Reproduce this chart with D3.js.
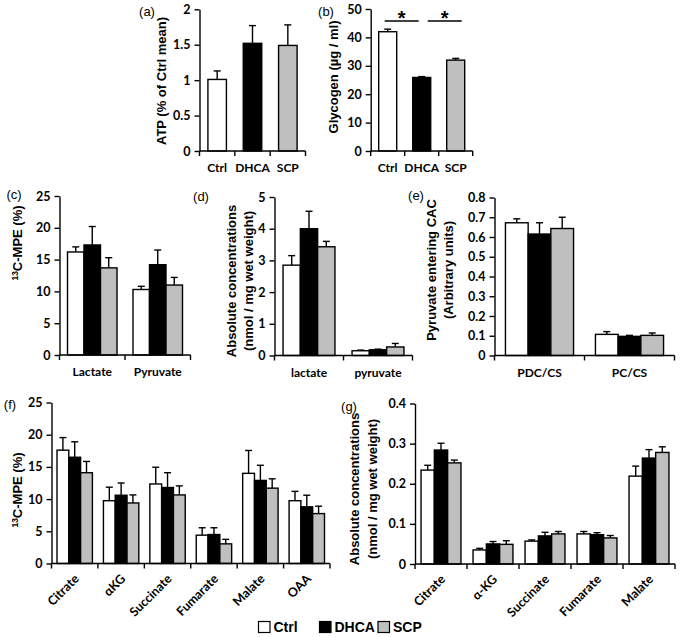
<!DOCTYPE html>
<html><head><meta charset="utf-8">
<script src="https://cdn.jsdelivr.net/npm/d3@7"></script>
<style>
body{margin:0;background:#fff;}
svg{display:block;}
</style></head>
<body>
<svg id="chart" width="680" height="637"></svg>
<script>
// ---------- DATA ----------
const groups = ["Ctrl", "DHCA", "SCP"];
const groupColors = ["#ffffff", "#000000", "#bfbfbf"];

// (a) ATP
const atpCats = ["Ctrl", "DHCA", "SCP"];
const atpMean = [1.01, 1.52, 1.49];
const atpErr = [0.12, 0.25, 0.29];
const atpTicks = [0, 0.5, 1, 1.5, 2];

// (b) Glycogen
const glyCats = ["Ctrl", "DHCA", "SCP"];
const glyMean = [42.0, 25.9, 32.0];
const glyErr = [0.9, 0.3, 0.6];
const glyTicks = [0, 10, 20, 30, 40, 50];
const glySig = [["Ctrl", "DHCA"], ["DHCA", "SCP"]];

// (c) 13C-MPE lactate / pyruvate
const mpeCats = ["Lactate", "Pyruvate"];
const mpeCtrl = [16.2, 10.3], mpeCtrlErr = [0.8, 0.5];
const mpeDhca = [17.3, 14.2], mpeDhcaErr = [2.9, 2.3];
const mpeScp = [13.7, 11.0], mpeScpErr = [1.6, 1.2];
const mpeTicks = [0, 5, 10, 15, 20, 25];

// (d) Absolute concentrations lactate / pyruvate
const absCats = ["lactate", "pyruvate"];
const absCtrl = [2.85, 0.15], absCtrlErr = [0.30, 0.02];
const absDhca = [4.0, 0.18], absDhcaErr = [0.55, 0.02];
const absScp = [3.43, 0.27], absScpErr = [0.17, 0.11];
const absTicks = [0, 1, 2, 3, 4, 5];

// (e) Pyruvate entering CAC
const pyrCats = ["PDC/CS", "PC/CS"];
const pyrCtrl = [0.672, 0.107], pyrCtrlErr = [0.020, 0.014];
const pyrDhca = [0.615, 0.097], pyrDhcaErr = [0.057, 0.005];
const pyrScp = [0.643, 0.102], pyrScpErr = [0.057, 0.012];
const pyrTicks = [0, 0.1, 0.2, 0.3, 0.4, 0.5, 0.6, 0.7, 0.8];

// (f) 13C-MPE CAC intermediates
const cacMpeCats = ["Citrate", "αKG", "Succinate", "Fumarate", "Malate", "OAA"];
const cacMpeCtrl = [17.6, 9.75, 12.35, 4.4, 14.0, 9.75];
const cacMpeCtrlErr = [1.95, 2.1, 2.6, 1.15, 3.55, 1.45];
const cacMpeDhca = [16.5, 10.6, 11.8, 4.5, 12.9, 8.8];
const cacMpeDhcaErr = [2.4, 1.9, 2.3, 1.05, 2.35, 1.8];
const cacMpeScp = [14.1, 9.4, 10.65, 3.05, 11.7, 7.75];
const cacMpeScpErr = [1.75, 1.25, 1.4, 0.7, 1.45, 1.15];
const cacMpeTicks = [0, 5, 10, 15, 20, 25];

// (g) Absolute concentrations CAC intermediates
const cacAbsCats = ["Citrate", "α-KG", "Succinate", "Fumarate", "Malate"];
const cacAbsCtrl = [0.234, 0.035, 0.057, 0.075, 0.219];
const cacAbsCtrlErr = [0.012, 0.004, 0.003, 0.006, 0.025];
const cacAbsDhca = [0.284, 0.050, 0.070, 0.073, 0.264];
const cacAbsDhcaErr = [0.017, 0.006, 0.009, 0.005, 0.021];
const cacAbsScp = [0.252, 0.049, 0.075, 0.065, 0.278];
const cacAbsScpErr = [0.007, 0.009, 0.006, 0.006, 0.014];
const cacAbsTicks = [0, 0.1, 0.2, 0.3, 0.4];

// ---------- DRAWING ----------
const svg = d3.select("#chart");
svg.append("rect").attr("width", 680).attr("height", 637).attr("fill", "#fff");

const tickFont = "Lato, 'Open Sans', sans-serif";
const titleFont = "'Liberation Sans', Arial, sans-serif";

function panel(cfg) {
  const g = svg.append("g");
  const x = d3.scaleBand().domain(cfg.cats).range([cfg.left, cfg.right]).padding(0);
  const y = d3.scaleLinear().domain([0, cfg.max]).range([cfg.bottom, cfg.top]);
  const bw = cfg.bw;
  const nS = cfg.series.length;

  cfg.series.forEach((s, si) => {
    const offs = nS === 1 ? 0 : (si - (nS - 1) / 2) * bw;
    const data = cfg.cats.map((c, i) => ({c, v: s.values[i], e: s.err[i], i}));
    const cx = d => x(d.c) + x.bandwidth() / 2 + offs;
    g.selectAll(null).data(data).enter().append("line")
      .attr("x1", cx).attr("x2", cx)
      .attr("y1", d => y(d.v)).attr("y2", d => y(d.v + d.e))
      .attr("stroke", "#000").attr("stroke-width", 1.4);
    g.selectAll(null).data(data).enter().append("line")
      .attr("x1", d => cx(d) - cfg.cap).attr("x2", d => cx(d) + cfg.cap)
      .attr("y1", d => y(d.v + d.e)).attr("y2", d => y(d.v + d.e))
      .attr("stroke", "#000").attr("stroke-width", 1.4);
    g.selectAll(null).data(data).enter().append("rect")
      .attr("x", d => cx(d) - bw / 2)
      .attr("width", bw)
      .attr("y", d => y(d.v))
      .attr("height", d => y(0) - y(d.v))
      .attr("fill", d => s.colorByCat ? groupColors[d.i] : s.color)
      .attr("stroke", "#000").attr("stroke-width", 1.4);
  });

  const ya = g.append("g").attr("transform", `translate(${cfg.left},0)`)
    .call(d3.axisLeft(y).tickValues(cfg.ticks).tickSize(5).tickSizeOuter(0).tickPadding(4)
      .tickFormat(d3.format("")));
  ya.select(".domain").attr("stroke-width", 1.4);
  ya.selectAll(".tick line").attr("stroke-width", 1.4);
  ya.selectAll("text").attr("font-family", tickFont).attr("font-weight", "bold")
    .attr("font-size", "12.5px").attr("fill", "#000");

  g.append("line").attr("x1", cfg.left).attr("x2", cfg.right)
    .attr("y1", y(0)).attr("y2", y(0)).attr("stroke", "#000").attr("stroke-width", 1.4);
  const bounds = cfg.cats.map(c => x(c)).concat([x(cfg.cats[cfg.cats.length - 1]) + x.bandwidth()]);
  g.selectAll(null).data(bounds).enter().append("line")
    .attr("x1", d => d).attr("x2", d => d)
    .attr("y1", y(0)).attr("y2", y(0) + 5)
    .attr("stroke", "#000").attr("stroke-width", 1.4);

  if (cfg.rotate) {
    g.selectAll(null).data(cfg.cats).enter().append("text")
      .attr("transform", c => `translate(${x(c) + x.bandwidth() / 2 + 5},${y(0) + 16}) rotate(-45)`)
      .attr("text-anchor", "end")
      .attr("font-family", tickFont).attr("font-weight", "bold").attr("font-size", "12.5px")
      .text(c => c);
  } else {
    g.selectAll(null).data(cfg.cats).enter().append("text")
      .attr("x", c => x(c) + x.bandwidth() / 2).attr("y", y(0) + 21)
      .attr("text-anchor", "middle")
      .attr("font-family", tickFont).attr("font-weight", "bold").attr("font-size", "12px")
      .text(c => c);
  }

  cfg.title.forEach((t, i) => {
    const txt = g.append("text")
      .attr("transform", `translate(${cfg.titleX[i]},${cfg.titleY}) rotate(-90)`)
      .attr("text-anchor", "middle").attr("dy", "0.35em")
      .attr("font-family", titleFont).attr("font-weight", "bold").attr("font-size", "13px");
    if (t.sup) {
      txt.append("tspan").attr("font-size", "8.5px").attr("dy", "-4").text(t.sup);
      txt.append("tspan").attr("dy", "4").text(t.text);
    } else {
      txt.text(t.text);
    }
  });

  g.append("text").attr("x", cfg.letterX).attr("y", cfg.letterY)
    .attr("text-anchor", "middle")
    .attr("font-family", titleFont).attr("font-size", "13px").text(cfg.letter);

  return {g, x, y};
}

// (a)
panel({
  cats: atpCats, left: 199.5, right: 305.5, top: 9.3, bottom: 151, max: 2, bw: 18.5, cap: 3.5,
  ticks: atpTicks,
  series: [{values: atpMean, err: atpErr, colorByCat: true}],
  title: [{text: "ATP (% of Ctrl mean)"}], titleX: [161], titleY: 81,
  letter: "(a)", letterX: 147, letterY: 16
});

// (b)
const pb = panel({
  cats: glyCats, left: 370.7, right: 472.7, top: 9, bottom: 151, max: 50, bw: 18, cap: 3.5,
  ticks: glyTicks,
  series: [{values: glyMean, err: glyErr, colorByCat: true}],
  title: [{text: "Glycogen (µg / ml)"}], titleX: [333], titleY: 77,
  letter: "(b)", letterX: 326, letterY: 16
});
const sigOff = [-3, 6];
glySig.forEach((pair, i) => {
  const x1 = pb.x(pair[0]) + pb.x.bandwidth() / 2 + sigOff[i];
  const x2 = pb.x(pair[1]) + pb.x.bandwidth() / 2 + sigOff[i];
  pb.g.append("line").attr("x1", x1).attr("x2", x2).attr("y1", 21).attr("y2", 21)
    .attr("stroke", "#000").attr("stroke-width", 1.4);
  pb.g.append("text").attr("x", (x1 + x2) / 2).attr("y", 25).attr("text-anchor", "middle")
    .attr("font-family", titleFont).attr("font-weight", "bold").attr("font-size", "20px").text("*");
});

// (c)
panel({
  cats: mpeCats, left: 59.5, right: 190.5, top: 196, bottom: 355, max: 25, bw: 16.5, cap: 3.5,
  ticks: mpeTicks,
  series: [
    {values: mpeCtrl, err: mpeCtrlErr, color: groupColors[0]},
    {values: mpeDhca, err: mpeDhcaErr, color: groupColors[1]},
    {values: mpeScp, err: mpeScpErr, color: groupColors[2]}],
  title: [{sup: "13", text: "C-MPE (%)"}], titleX: [22], titleY: 243,
  letter: "(c)", letterX: 14, letterY: 199
});

// (d)
panel({
  cats: absCats, left: 274.5, right: 412.5, top: 197, bottom: 355.5, max: 5, bw: 17.3, cap: 3.5,
  ticks: absTicks,
  series: [
    {values: absCtrl, err: absCtrlErr, color: groupColors[0]},
    {values: absDhca, err: absDhcaErr, color: groupColors[1]},
    {values: absScp, err: absScpErr, color: groupColors[2]}],
  title: [{text: "Absolute concentrations"}, {text: "(nmol / mg wet weight)"}], titleX: [231, 248], titleY: 281,
  letter: "(d)", letterX: 201, letterY: 201
});

// (e)
panel({
  cats: pyrCats, left: 494.5, right: 674.5, top: 197.5, bottom: 355.5, max: 0.8, bw: 22.7, cap: 3.5,
  ticks: pyrTicks,
  series: [
    {values: pyrCtrl, err: pyrCtrlErr, color: groupColors[0]},
    {values: pyrDhca, err: pyrDhcaErr, color: groupColors[1]},
    {values: pyrScp, err: pyrScpErr, color: groupColors[2]}],
  title: [{text: "Pyruvate entering CAC"}, {text: "(Arbitrary units)"}], titleX: [431, 448], titleY: 270,
  letter: "(e)", letterX: 416, letterY: 200
});

// (f)
panel({
  cats: cacMpeCats, left: 51.5, right: 330, top: 402.5, bottom: 563.5, max: 25, bw: 11.8, cap: 3.5,
  ticks: cacMpeTicks, rotate: true,
  series: [
    {values: cacMpeCtrl, err: cacMpeCtrlErr, color: groupColors[0]},
    {values: cacMpeDhca, err: cacMpeDhcaErr, color: groupColors[1]},
    {values: cacMpeScp, err: cacMpeScpErr, color: groupColors[2]}],
  title: [{sup: "13", text: "C-MPE (%)"}], titleX: [22], titleY: 490,
  letter: "(f)", letterX: 10, letterY: 409
});

// (g)
panel({
  cats: cacAbsCats, left: 415, right: 675, top: 403.5, bottom: 564, max: 0.4, bw: 13.3, cap: 3.5,
  ticks: cacAbsTicks, rotate: true,
  series: [
    {values: cacAbsCtrl, err: cacAbsCtrlErr, color: groupColors[0]},
    {values: cacAbsDhca, err: cacAbsDhcaErr, color: groupColors[1]},
    {values: cacAbsScp, err: cacAbsScpErr, color: groupColors[2]}],
  title: [{text: "Absolute concentrations"}, {text: "(nmol / mg wet weight)"}], titleX: [354, 372], titleY: 489,
  letter: "(g)", letterX: 349, letterY: 411
});

// legend
const legX = [258.5, 319.5, 378];
const leg = svg.append("g");
groups.forEach((gname, i) => {
  leg.append("rect").attr("x", legX[i]).attr("y", 621.5).attr("width", 11.5).attr("height", 11)
    .attr("fill", groupColors[i]).attr("stroke", "#000").attr("stroke-width", 1.2);
  leg.append("text").attr("x", legX[i] + 15).attr("y", 632)
    .attr("font-family", titleFont).attr("font-weight", "bold").attr("font-size", "14px").text(gname);
});
</script>
</body></html>
